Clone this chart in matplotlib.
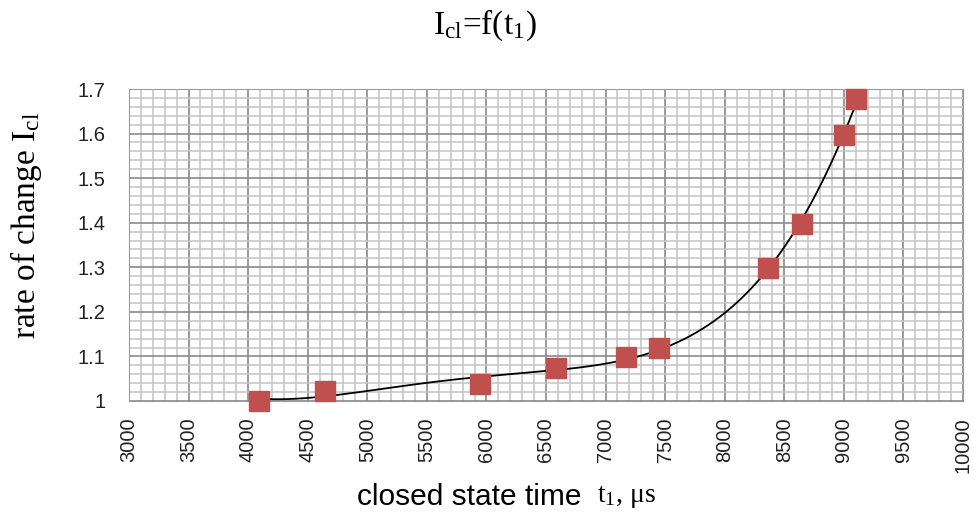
import numpy as np
import matplotlib
matplotlib.use("Agg")
import matplotlib.pyplot as plt
from matplotlib.ticker import MultipleLocator

# measured points
t1 = [4091, 4646, 5947, 6585, 7173, 7450, 8365, 8650, 9003, 9104]
icl = [1.000, 1.022, 1.038, 1.074, 1.099, 1.119, 1.298, 1.397, 1.597, 1.678]

x_ticks = list(range(3000, 10001, 500))
y_ticks = [1.0, 1.1, 1.2, 1.3, 1.4, 1.5, 1.6, 1.7]
y_tick_labels = ["1", "1.1", "1.2", "1.3", "1.4", "1.5", "1.6", "1.7"]

plt.rcParams['mathtext.fontset'] = 'custom'
plt.rcParams['mathtext.rm'] = 'Liberation Serif'
plt.rcParams['mathtext.it'] = 'Liberation Serif'

fig = plt.figure(figsize=(9.74, 5.15), dpi=100)
ax = fig.add_axes([129 / 974, 1 - 401 / 515, 834 / 974, 312 / 515])

ax.set_xlim(3000, 10000)
ax.set_ylim(1.0, 1.7)
ax.xaxis.set_minor_locator(MultipleLocator(100))
ax.yaxis.set_minor_locator(MultipleLocator(0.02))
ax.set_xticks(x_ticks)
ax.set_yticks(y_ticks)
ax.set_yticklabels(y_tick_labels)
ax.grid(which='minor', color='#c4c4c4', linewidth=1.1)
ax.grid(which='major', color='#8a8a8a', linewidth=1.2)
ax.set_axisbelow(True)
for s in ax.spines.values():
    s.set_color('#9a9a9a')
ax.tick_params(which='both', length=0)
ax.tick_params(axis='x', labelrotation=90, pad=12)
ax.tick_params(axis='y', pad=17)
for lab in ax.get_xticklabels() + ax.get_yticklabels():
    lab.set_fontfamily('Liberation Sans')
    lab.set_fontsize(14.5)
    lab.set_color('#222222')

# polynomial trendline through the points
coef = np.polyfit(np.array(t1) / 1000.0, icl, 4)
xs = np.linspace(t1[0], t1[-1], 300)
ax.plot(xs, np.polyval(coef, xs / 1000.0), color='black', linewidth=1.3, zorder=3)
ax.plot(t1, icl, linestyle='none', marker='s', markersize=14,
        color='#c0504d', zorder=4, clip_on=False)

fig.text(485 / 974, 1 - 25 / 515, r'$\mathrm{I_{cl}}$=f($\mathrm{t_1}$)', fontsize=24,
         ha='center', va='center', family='Liberation Serif')
fig.text(26 / 974, 1 - 225 / 515, r'rate of change $\mathrm{I_{cl}}$', fontsize=24,
         rotation=90, ha='center', va='center', family='Liberation Serif')
fig.text(357 / 974, 1 - 497 / 515, 'closed state time', fontsize=21.5,
         ha='left', va='center', family='Liberation Sans')
fig.text(597 / 974, 1 - 497 / 515, r'$\mathrm{t_1}$, μs', fontsize=20,
         ha='left', va='center', family='Liberation Serif')

fig.savefig('out.png', dpi=100)
